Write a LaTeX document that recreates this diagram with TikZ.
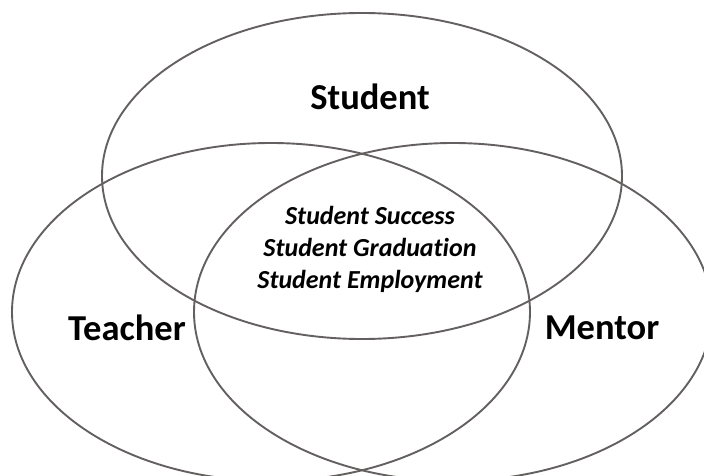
\documentclass[tikz,border=0pt]{standalone}
\usepackage{fontspec}
\setmainfont{Carlito}[Ligatures={NoCommon}]
\definecolor{ringgray}{RGB}{100,96,96}
\begin{document}
\begin{tikzpicture}[x=1pt,y=-1pt,
  ring/.style={draw=ringgray,line width=1.9pt},
  biglabel/.style={font=\fontsize{36.5}{40}\selectfont\bfseries,inner sep=0pt},
  innerlabel/.style={font=\fontsize{26}{32}\selectfont\bfseries\itshape,inner sep=0pt,align=center}]
\useasboundingbox (0,0) rectangle (704,476);
\clip (0,0) rectangle (704,476);
\fill[white] (0,0) rectangle (704,476);
\draw[ring] (362,176) ellipse [x radius=260,y radius=163];
\draw[ring] (271,312) ellipse [x radius=259,y radius=169];
\draw[ring] (453,312) ellipse [x radius=259,y radius=169];
\node[biglabel] (student) at (370,97) {Student};
\node[biglabel] (teacher) at (127,328) {Teacher};
\node[biglabel] (mentor) at (602,328) {Mentor};
\node[innerlabel] (core) at (370,249) {Student Success\\Student Graduation\\Student Employment};
\end{tikzpicture}
\end{document}
